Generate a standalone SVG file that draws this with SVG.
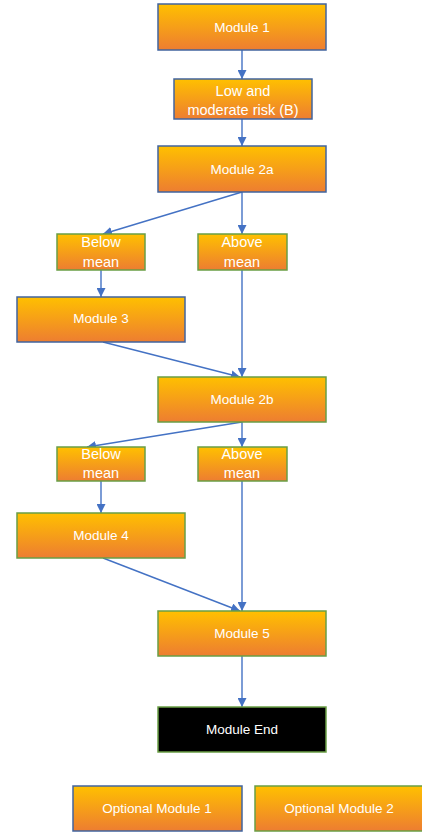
<svg xmlns="http://www.w3.org/2000/svg" width="422" height="832" viewBox="0 0 422 832">
<defs>
<linearGradient id="og" x1="0" y1="0" x2="0" y2="1">
<stop offset="0" stop-color="#FFC000"/>
<stop offset="1" stop-color="#ED7D31"/>
</linearGradient>
<marker id="ah" viewBox="0 0 10 10" refX="10" refY="5" markerWidth="9" markerHeight="9" markerUnits="userSpaceOnUse" orient="auto">
<path d="M0,0 L10,5 L0,10 z" fill="#4472C4"/>
</marker>
<style>
.box{fill:url(#og);stroke-width:1.5}
.blue{stroke:#41649E}
.green{stroke:#6A9E45}
.end{fill:#000;stroke:#6A9E45;stroke-width:1.5}
text{font-family:"Liberation Sans",Arial,sans-serif;fill:#fff;text-anchor:middle;dominant-baseline:central}
.s{font-size:13.5px}
.m{font-size:14.5px}
.c{stroke:#4472C4;stroke-width:1.4;fill:none;marker-end:url(#ah)}
</style>
</defs>
<g id="connectors">
<line class="c" x1="242" y1="50" x2="242" y2="79"/>
<line class="c" x1="242" y1="119" x2="242" y2="146"/>
<line class="c" x1="242" y1="192" x2="103" y2="234"/>
<line class="c" x1="242" y1="192" x2="242" y2="234"/>
<line class="c" x1="101" y1="270" x2="101" y2="297"/>
<line class="c" x1="103" y1="342" x2="240" y2="377"/>
<line class="c" x1="242" y1="270" x2="242" y2="377"/>
<line class="c" x1="242" y1="422" x2="87" y2="447"/>
<line class="c" x1="242" y1="422" x2="242" y2="447"/>
<line class="c" x1="101" y1="481" x2="101" y2="513"/>
<line class="c" x1="103" y1="558" x2="240" y2="611"/>
<line class="c" x1="242" y1="481" x2="242" y2="611"/>
<line class="c" x1="242" y1="656" x2="242" y2="707"/>
</g>
<g id="module1"><rect class="box blue" x="158" y="4" width="168" height="46"/><text class="s" x="242" y="27">Module 1</text></g>
<g id="lowmod"><rect class="box blue" x="174" y="79" width="138" height="40"/><text class="m" x="243" y="91">Low and</text><text class="m" x="243" y="110">moderate risk (B)</text></g>
<g id="module2a"><rect class="box blue" x="158" y="146" width="168" height="46"/><text class="s" x="242" y="169">Module 2a</text></g>
<g id="below1"><rect class="box green" x="57" y="234" width="88" height="36"/><text class="m" x="101" y="242">Below</text><text class="m" x="101" y="262">mean</text></g>
<g id="above1"><rect class="box green" x="198" y="234" width="89" height="36"/><text class="m" x="242" y="242">Above</text><text class="m" x="242" y="262">mean</text></g>
<g id="module3"><rect class="box blue" x="17" y="297" width="168" height="45"/><text class="s" x="101" y="318">Module 3</text></g>
<g id="module2b"><rect class="box green" x="158" y="377" width="168" height="45"/><text class="s" x="242" y="399">Module 2b</text></g>
<g id="below2"><rect class="box green" x="57" y="447" width="88" height="34"/><text class="m" x="101" y="454">Below</text><text class="m" x="101" y="473">mean</text></g>
<g id="above2"><rect class="box green" x="198" y="447" width="89" height="34"/><text class="m" x="242" y="454">Above</text><text class="m" x="242" y="473">mean</text></g>
<g id="module4"><rect class="box green" x="17" y="513" width="168" height="45"/><text class="s" x="101" y="535">Module 4</text></g>
<g id="module5"><rect class="box green" x="158" y="611" width="168" height="45"/><text class="s" x="242" y="633">Module 5</text></g>
<g id="moduleEnd"><rect class="end" x="158" y="707" width="168" height="45"/><text class="s" x="242" y="729">Module End</text></g>
<g id="optional1"><rect class="box blue" x="73" y="786" width="169" height="45"/><text class="s" x="157" y="808">Optional Module 1</text></g>
<g id="optional2"><rect class="box green" x="255" y="786" width="170" height="45"/><text class="s" x="339" y="808">Optional Module 2</text></g>
</svg>
